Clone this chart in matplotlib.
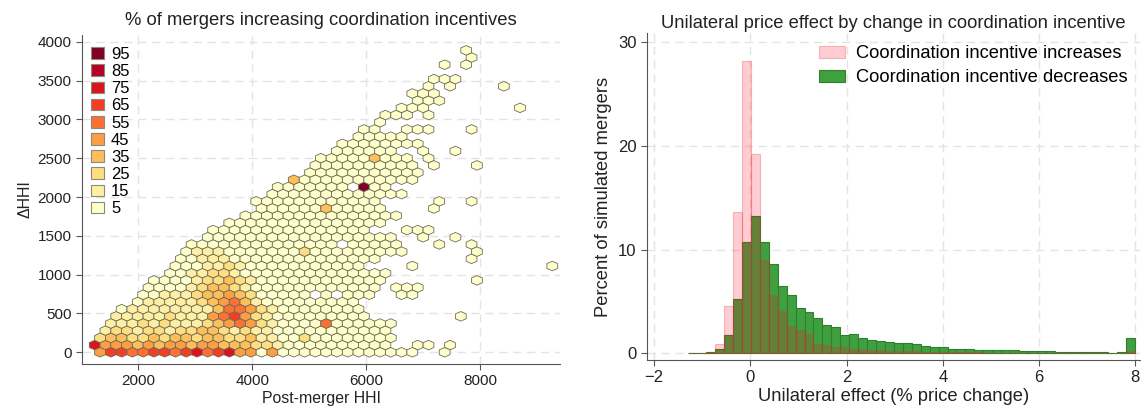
import numpy as np
import matplotlib
matplotlib.use("Agg")
import matplotlib.pyplot as plt
from matplotlib.colors import ListedColormap, BoundaryNorm
from matplotlib.patches import Patch

plt.rcParams['font.family'] = ['Liberation Sans', 'DejaVu Sans']

# ---------------- left panel data (hex cells) ----------------
PCT_CLASSES = [5, 15, 25, 35, 45, 55, 65, 75, 85, 95]
HEX_X0 = 1232.5   # post-merger HHI of column 0 in odd rows
HEX_DX = 189.0    # HHI step between columns
HEX_DY = 92.6     # delta-HHI step between rows
# one string per row (row 0 = deltaHHI 0); '.' = no cell, digit = class index
D = "."
HEX_ROWS = [
    "46655665675674404" + "0" * 13 + "..0",                                   # r0
    "7" + "4443434434433" + "32" + "21" + "0" * 10 + "..00.0",                 # r1
    "2332232332332" + "2311" + "00" + "2" + "0" * 8,                          # r2
    "." + "1221221223321211" + "0" * 11,                                      # r3
    "." + "1112121112" + "3454" + "21" + "0000" + "5" + "0" * 6,              # r4
    ".." + "111112111" + "4564" + "21" + "0" * 9 + D * 8 + "0",              # r5
    ".." + "011111111" + "3554" + "2" + "1" + "0" * 8,                        # r6
    "...." + "0111112" + "3453" + "1" + "0" * 9,                              # r7
    "...." + "0011123" + "343" + "2" + "00000" + ".0." + "000" + ".." + "00",  # r8
    "....." + "000012" + "332" + "1" + "0" * 12 + "." + "000",                # r9
    "....." + "000012" + "232" + "1" + "0" * 12 + D * 8 + "0",                # r10
    "......." + "0011" + "221" + "0" * 14,                                    # r11
    "......." + "0001" + "121" + "0" * 11 + "...." + "0" + D * 12 + "0",      # r12
    "........" + "001110" + "0" * 13 + D * 8 + "0",                           # r13
    "........" + "011100" + "00000" + "2" + "0" * 9 + D * 6 + "0",            # r14
    "........." + "0" * 14 + "." + "00000" + "..." + "0" + ".." + "0",        # r15
    ".........." + "0" * 18 + ".." + "0" + ".." + "0",                        # r16
    "..........." + "0" * 15 + "..." + "000",                                 # r17
    "............" + "0" * 15,                                                # r18
    ".............." + "0" * 15,                                              # r19
    "..............." + "000000" + "3" + "00000" + "...." + "0",              # r20
    "..............." + "0" * 12 + "....." + "0" + ".." + "0",                # r21
    "................" + "0" * 13,                                            # r22
    "................." + "0000000" + "." + "9" + "00",                       # r23
    ".................." + "3" + "0" * 11,                                    # r24
    D * 20 + "0" * 11,                                                        # r25
    D * 20 + "0" * 10 + "." + "0" + "..." + "0",                              # r26
    D * 21 + "00000" + "3" + "000" + "." + "0",                               # r27
    D * 22 + "000000" + ".." + "0" + ".." + "0",                              # r28
    D * 23 + "0" * 8,                                                         # r29
    D * 24 + "0" * 5,                                                         # r30
    D * 25 + "00" + ".." + "000" + "..." + "0",                               # r31
    D * 26 + "0",                                                             # r32
    D * 27 + "000" + "." + "0",                                               # r33
    D * 28 + "000" + D * 8 + "0",                                             # r34
    D * 30 + "000",                                                           # r35
    D * 29 + "000",                                                           # r36
    D * 31 + "0" + "." + "0" + "...." + "0",                                  # r37
    D * 31 + "000",                                                           # r38
    "",                                                                       # r39
    D * 32 + "0.0",                                                           # r40
    D * 35 + "0",                                                             # r41
    D * 34 + "0",                                                             # r42
]

# ---------------- right panel data (histogram) ----------------
BIN_LO, BIN_HI, N_BINS = -1.29, 8.0, 50
PCT_DECREASE = [0.05, 0.05, 0.1, 0.45, 1.8, 5.2, 10.7, 13.2, 10.7, 8.6,
                6.45, 5.6, 4.35, 4.0, 3.4, 2.7, 2.5, 1.75, 1.9, 1.45,
                1.3, 1.15, 1.1, 0.95, 0.95, 0.85, 0.7, 0.6, 0.6, 0.45,
                0.45, 0.4, 0.35, 0.32, 0.3, 0.27, 0.27, 0.23, 0.23, 0.2,
                0.2, 0.17, 0.17, 0.13, 0.13, 0.1, 0.13, 0.07, 0.1, 1.45]
PCT_INCREASE = [0.0, 0.02, 0.1, 0.9, 4.6, 13.6, 28.2, 19.2, 9.0, 5.6,
                4.1, 2.6, 2.2, 1.85, 0.87, 0.84, 0.6, 0.6, 0.45, 0.38,
                0.3, 0.28, 0.25, 0.22, 0.2, 0.18, 0.15, 0.13, 0.12, 0.1,
                0.1, 0.09, 0.08, 0.07, 0.06, 0.06, 0.05, 0.05, 0.04, 0.04,
                0.04, 0.03, 0.03, 0.03, 0.03, 0.02, 0.02, 0.02, 0.02, 0.2]
LEGEND_LABELS = ["Coordination incentive increases", "Coordination incentive decreases"]

# ---------------- figure ----------------
W, H = 1141, 407
fig = plt.figure(figsize=(W / 100, H / 100), dpi=100)

def px_axes(l, t, r, b):
    return fig.add_axes([l / W, 1 - b / H, (r - l) / W, (b - t) / H])

grid_kw = dict(color='#e4e4e4', linestyle=(0, (6, 4)), linewidth=1.0)

# ---- left: hexbin ----
ax1 = px_axes(82, 35, 560, 364)
xs, ys, cs = [], [], []
for r, row in enumerate(HEX_ROWS):
    for i, ch in enumerate(row):
        if ch == '.':
            continue
        xs.append(HEX_X0 + (i + (0.5 if r % 2 == 0 else 0.0)) * HEX_DX)
        ys.append(r * HEX_DY)
        cs.append(PCT_CLASSES[int(ch)])
nx, ny = 46, 23
extent = (HEX_X0, HEX_X0 + nx * HEX_DX, -HEX_DY, -HEX_DY + ny * 2 * HEX_DY)
colors = plt.cm.YlOrRd(np.linspace(0.0, 1.0, 10))
cmap = ListedColormap(colors)
norm = BoundaryNorm(np.arange(0, 101, 10), cmap.N)
ax1.hexbin(xs, ys, C=cs, gridsize=(nx, ny), extent=extent, cmap=cmap, norm=norm,
           reduce_C_function=np.mean, edgecolors='#6c6c58', linewidths=0.6, zorder=3)
ax1.set_xlim(1010, 9400)
ax1.set_ylim(-151, 4087)
ax1.set_xticks([2000, 4000, 6000, 8000])
ax1.set_yticks(np.arange(0, 4001, 500))
ax1.grid(True, **grid_kw)
ax1.set_axisbelow(True)
for s in ['top', 'right']:
    ax1.spines[s].set_visible(False)
for s in ['left', 'bottom']:
    ax1.spines[s].set_color('#555555')
ax1.tick_params(labelsize=11, colors='#555555', labelcolor='#222222', length=4)
ax1.set_xlabel("Post-merger HHI", fontsize=11.4, color='#222222', labelpad=2)
ax1.set_ylabel("ΔHHI", fontsize=11.4, color='#222222', labelpad=4)
ax1.set_title("% of mergers increasing coordination incentives", fontsize=13.3, pad=7, color='#222222')
handles = [Patch(facecolor=colors[k], edgecolor='#8a8a7a', linewidth=0.8, label=str(PCT_CLASSES[k]))
           for k in range(9, -1, -1)]
leg1 = ax1.legend(handles=handles, loc='upper left', bbox_to_anchor=(0.018, 0.964), frameon=False,
                  fontsize=12, handlelength=0.78, handleheight=0.7, handletextpad=0.45,
                  labelspacing=0.13, borderpad=0, borderaxespad=0)

# ---- right: histogram ----
ax2 = px_axes(647, 33, 1140, 360)
edges = np.linspace(BIN_LO, BIN_HI, N_BINS + 1)
width = edges[1] - edges[0]
ax2.bar(edges[:-1], PCT_DECREASE, width=width, align='edge', color='#3fa03f',
        edgecolor='#2f7f2f', linewidth=0.8, label=LEGEND_LABELS[1], zorder=2)
ax2.bar(edges[:-1], PCT_INCREASE, width=width, align='edge', color=(1.0, 0.0, 0.1, 0.2),
        edgecolor=(0.9, 0.2, 0.25, 0.3), linewidth=0.8, label=LEGEND_LABELS[0], zorder=3)
ax2.set_xlim(-2.15, 8.1)
ax2.set_ylim(-0.65, 30.9)
ax2.set_xticks([-2, 0, 2, 4, 6, 8])
ax2.set_yticks([0, 10, 20, 30])
ax2.grid(True, **grid_kw)
ax2.set_axisbelow(True)
for s in ['top', 'right']:
    ax2.spines[s].set_visible(False)
for s in ['left', 'bottom']:
    ax2.spines[s].set_color('#555555')
ax2.tick_params(labelsize=12, colors='#555555', labelcolor='#222222', length=4)
ax2.set_xlabel("Unilateral effect (% price change)", fontsize=13.2, color='#222222', labelpad=2)
ax2.set_ylabel("Percent of simulated mergers", fontsize=13.2, color='#222222', labelpad=4)
ax2.set_title("Unilateral price effect by change in coordination incentive", fontsize=13.2,
              pad=3.5, color='#222222')
h, l = ax2.get_legend_handles_labels()
ax2.legend([h[1], h[0]], [l[1], l[0]], loc='upper right', bbox_to_anchor=(0.974, 0.962), frameon=False,
           fontsize=13.2, handlelength=1.4, handleheight=0.65, handletextpad=0.6,
           labelspacing=0.38, borderpad=0, borderaxespad=0)

fig.savefig("out.png", dpi=100)
